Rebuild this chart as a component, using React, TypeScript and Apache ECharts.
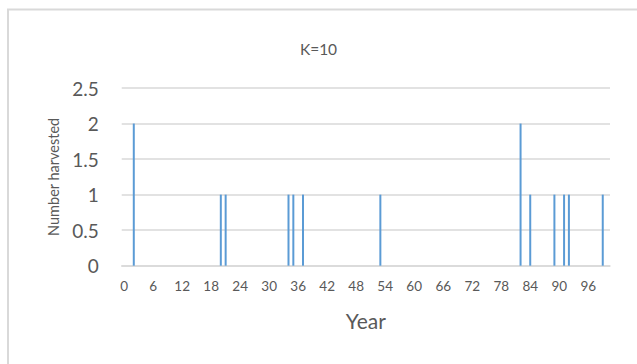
import React, { useEffect, useRef } from "react";
import * as echarts from "echarts";

const titleText = "K=10";
const xAxisTitle = "Year";
const yAxisTitle = "Number harvested";
const firstYear = 0;
const lastYear = 100;
const harvestYears = [2, 20, 21, 34, 35, 37, 53, 82, 84, 89, 91, 92, 99];
const harvestCounts = [2, 1, 1, 1, 1, 1, 1, 2, 1, 1, 1, 1, 1];
const yMin = 0;
const yMax = 2.5;
const yStep = 0.5;

export default function App() {
  const ref = useRef<HTMLDivElement>(null);
  useEffect(() => {
    if (!ref.current) return;
    const chart = echarts.init(ref.current, null, { renderer: "svg" });
    const categories: string[] = [];
    const values: number[] = [];
    for (let y = firstYear; y <= lastYear; y++) {
      categories.push(String(y));
      const idx = harvestYears.indexOf(y);
      values.push(idx >= 0 ? harvestCounts[idx] : 0);
    }
    const font = "Lato, 'Noto Sans', sans-serif";
    chart.setOption({
      animation: false,
      backgroundColor: "#ffffff",
      title: {
        text: titleText,
        left: "center",
        top: 36,
        textStyle: { fontFamily: font, fontSize: 15.5, fontWeight: "normal", color: "#595959" },
      },
      grid: { left: 121.7, right: 27, top: 88, bottom: 98.3, containLabel: false },
      xAxis: {
        type: "category",
        data: categories,
        boundaryGap: true,
        name: xAxisTitle,
        nameLocation: "middle",
        nameGap: 44,
        nameTextStyle: { fontFamily: font, fontSize: 21, color: "#595959" },
        axisLine: { show: true, lineStyle: { color: "#D9D9D9", width: 1.5 } },
        axisTick: { show: false },
        axisLabel: { interval: 5, margin: 13, fontFamily: font, fontSize: 13.5, color: "#595959" },
        splitLine: { show: false },
      },
      yAxis: {
        type: "value",
        min: yMin,
        max: yMax,
        interval: yStep,
        name: yAxisTitle,
        nameLocation: "middle",
        nameGap: 59,
        nameTextStyle: { fontFamily: font, fontSize: 14.5, color: "#595959" },
        axisLine: { show: false },
        axisTick: { show: false },
        axisLabel: { margin: 23, fontFamily: font, fontSize: 19, color: "#595959" },
        splitLine: { lineStyle: { color: "#D9D9D9", width: 1.5 } },
      },
      series: [
        {
          type: "bar",
          data: values,
          barWidth: 2,
          itemStyle: { color: "#5B9BD5" },
        },
      ],
      graphic: [
        {
          type: "rect",
          shape: { x: 8, y: 9.5, width: 700, height: 400 },
          style: { fill: "none", stroke: "#D9D9D9", lineWidth: 2 },
          silent: true,
        },
      ],
    });
    return () => chart.dispose();
  }, []);
  return (
    <div
      ref={ref}
      style={{ position: "fixed", left: 0, top: 0, width: 637, height: 364 }}
    />
  );
}
